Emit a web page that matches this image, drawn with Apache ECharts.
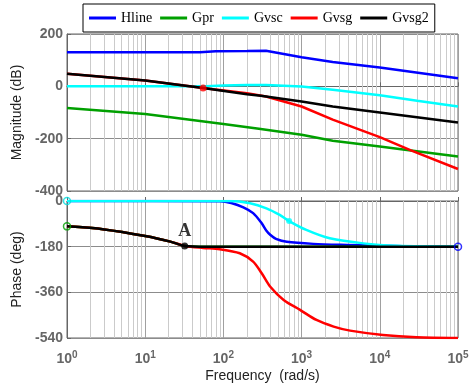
<!DOCTYPE html>
<html><head><meta charset="utf-8">
<script src="https://cdn.jsdelivr.net/npm/echarts@6/dist/echarts.min.js"></script>
<style>html,body{margin:0;padding:0;background:#fff}#c{width:475px;height:385px}</style>
</head><body><div id="c"></div>
<script>
const seriesNames = ['Hline','Gpr','Gvsc','Gvsg','Gvsg2'];
const seriesColors = ['#0000ff','#00a000','#00ffff','#ff0000','#000000'];
const xTickExponents = [0,1,2,3,4,5];
const magTicks = [-400,-200,0,200];
const phaseTicks = [-540,-360,-180,0];

// Magnitude (dB)
const hlineMagFreq = [1, 50, 80, 200, 350, 1000, 2500, 10000, 100000];
const hlineMag     = [130, 130, 134, 135, 136, 111, 93, 72, 31];
const gprMagFreq = [1, 10, 100, 300, 1000, 2500, 10000, 25000, 100000];
const gprMag     = [-83, -106, -144, -163, -185, -208, -230, -245, -268];
const gvscMagFreq = [1, 60, 100, 200, 350, 1000, 2500, 10000, 30000, 100000];
const gvscMag     = [0, 0, 3, 5, 5, -1, -13, -34, -55, -77];
const gvsgMagFreq = [1, 10, 55, 200, 350, 1000, 2500, 10000, 25000, 100000];
const gvsgMag     = [48, 22, -6, -26, -39, -77, -127, -194, -245, -316];
const gvsg2MagFreq = [1, 10, 55, 200, 300, 1000, 2500, 10000, 100000];
const gvsg2Mag     = [48, 22, -6, -30, -36, -58, -77, -100, -138];

// Phase (deg)
const hlinePhaseFreq = [1, 91, 126, 180, 240, 309, 355, 400, 470, 646, 1413, 3800, 20000, 100000];
const hlinePhase     = [0, -1, -8, -25, -48, -88, -117, -134, -149, -161, -169, -173, -178, -180];
const gprPhaseFreq = [1, 3, 10, 21, 32, 60, 100000];
const gprPhase     = [-100, -112, -138, -160, -177, -180, -180];
const gvscPhaseFreq = [1, 120, 219, 355, 525, 692, 1148, 2291, 6166, 16600, 100000];
const gvscPhase     = [0, 0, -9, -29, -55, -79, -114, -147, -167, -176, -180];
const gvsgPhaseFreq = [1, 3, 10, 21, 32, 55, 90, 162, 240, 309, 398, 589, 955, 1549, 2570, 4169, 10965, 29500, 100000];
const gvsgPhase     = [-100, -112, -138, -160, -177, -185, -190, -206, -239, -285, -338, -390, -429, -469, -495, -511, -528, -537, -540];
const gvsg2PhaseFreq = [1, 3, 10, 21, 32, 60, 100000];
const gvsg2Phase     = [-100, -112, -138, -160, -177, -180, -180];

// Markers
const magCrossPoint = [[55, -6]];
const pointA = [[32, -177]];
const gvscPhaseMarker = [[692, -79]];
const startMarkers = [[1, 0, '#00e0e0'], [1, -100, '#00a000'], [100000, -180, '#0000ff']];

const zip = (f, v) => f.map((x, i) => [x, v[i]]);

const magData = [zip(hlineMagFreq, hlineMag), zip(gprMagFreq, gprMag), zip(gvscMagFreq, gvscMag), zip(gvsgMagFreq, gvsgMag), zip(gvsg2MagFreq, gvsg2Mag)];
const phaseData = [zip(hlinePhaseFreq, hlinePhase), zip(gprPhaseFreq, gprPhase), zip(gvscPhaseFreq, gvscPhase), zip(gvsgPhaseFreq, gvsgPhase), zip(gvsg2PhaseFreq, gvsg2Phase)];

const minorGrid = [];
for (let e = 0; e < 5; e++) for (let k = 2; k <= 9; k++) minorGrid.push({ xAxis: k * Math.pow(10, e) });

const labelFont = 'Liberation Sans';
const gridSeries = (idx) => ({
  type: 'line', xAxisIndex: idx, yAxisIndex: idx, data: [], silent: true, z: 1,
  markLine: { silent: true, z: 1, symbol: 'none', label: { show: false }, animation: false,
    lineStyle: { color: '#cbcbcb', width: 1, type: 'solid' }, data: minorGrid }
});

const series = [gridSeries(0), gridSeries(1)];
seriesNames.forEach((n, i) => {
  series.push({ name: n, type: 'line', xAxisIndex: 0, yAxisIndex: 0, data: magData[i], symbol: 'none',
    lineStyle: { color: seriesColors[i], width: 2.5 }, itemStyle: { color: seriesColors[i] }, z: 10 + i });
});
seriesNames.forEach((n, i) => {
  series.push({ name: n, type: 'line', xAxisIndex: 1, yAxisIndex: 1, data: phaseData[i], symbol: 'none',
    smooth: 0.3,
    lineStyle: { color: seriesColors[i], width: 2.5 }, itemStyle: { color: seriesColors[i] }, z: 10 + i });
});
series.push({ type: 'scatter', xAxisIndex: 0, yAxisIndex: 0, data: magCrossPoint, symbolSize: 7, itemStyle: { color: '#ff0000' }, z: 20 });
series.push({ type: 'scatter', xAxisIndex: 1, yAxisIndex: 1, data: pointA, symbolSize: 7, itemStyle: { color: '#000' }, z: 20,
  label: { show: true, formatter: 'A', position: 'top', distance: 2, fontFamily: 'Liberation Serif', fontWeight: 'bold', fontSize: 18, color: '#000' } });
series.push({ type: 'scatter', xAxisIndex: 1, yAxisIndex: 1, data: gvscPhaseMarker, symbolSize: 6, itemStyle: { color: '#00ffff' }, z: 20 });
series.push({ type: 'scatter', xAxisIndex: 1, yAxisIndex: 1, data: startMarkers.map(d => ({ value: [d[0], d[1]], itemStyle: { borderColor: d[2] } })),
  symbol: 'circle', symbolSize: 7, itemStyle: { color: 'rgba(255,255,255,0)', borderWidth: 1.5 }, z: 21 });

const xAxisBase = (idx) => ({
  type: 'log', logBase: 10, gridIndex: idx, min: 1, max: 100000,
  axisLine: { lineStyle: { color: '#666', width: 1 } },
  axisTick: { inside: true, length: 4, lineStyle: { color: '#666' } },
  splitLine: { show: true, lineStyle: { color: '#a0a0a0', width: 1 } },
  minorSplitLine: { show: false }
});
const yAxisBase = (idx, ticks, name) => ({
  type: 'value', gridIndex: idx, min: ticks[0], max: ticks[ticks.length - 1], interval: ticks[1] - ticks[0],
  name: name, nameLocation: 'middle', nameGap: 32,
  nameTextStyle: { fontFamily: labelFont, fontSize: 14, color: '#222' },
  axisLine: { show: true, lineStyle: { color: '#666' } },
  axisTick: { show: true, inside: true, length: 4, lineStyle: { color: '#666' } },
  axisLabel: { fontFamily: labelFont, fontWeight: 'bold', fontSize: 14, color: '#666', margin: 4 },
  splitLine: { show: true, lineStyle: { color: '#8c8c8c', width: 1 } }
});

const xTop = xAxisBase(0); xTop.axisLabel = { show: false };
const xBot = xAxisBase(1);
xBot.name = 'Frequency  (rad/s)'; xBot.nameLocation = 'middle'; xBot.nameGap = 31;
xBot.nameTextStyle = { fontFamily: labelFont, fontSize: 14, color: '#222' };
xBot.axisLabel = { margin: 12, formatter: (v) => {
    const e = Math.round(Math.log10(v));
    return xTickExponents.indexOf(e) >= 0 ? '{b|10}{s|' + e + '}' : '';
  },
  rich: { b: { fontFamily: labelFont, fontWeight: 'bold', fontSize: 14, color: '#666' },
          s: { fontFamily: labelFont, fontWeight: 'bold', fontSize: 10, color: '#666', padding: [0, 0, 9, 0] } } };

const option = {
  animation: false,
  backgroundColor: '#fff',
  legend: { data: seriesNames, left: 83, top: 4, icon: 'rect', itemWidth: 27, itemHeight: 3, itemGap: 8,
    borderColor: '#000', borderWidth: 1, padding: [7, 6],
    textStyle: { fontFamily: 'Liberation Serif', fontSize: 14, color: '#000' } },
  grid: [
    { left: 67, top: 34, width: 391, height: 157, show: true, borderColor: '#666', borderWidth: 1, backgroundColor: 'transparent' },
    { left: 67, top: 201, width: 391, height: 137, show: true, borderColor: '#666', borderWidth: 1, backgroundColor: 'transparent' }
  ],
  xAxis: [xTop, xBot],
  yAxis: [yAxisBase(0, magTicks, 'Magnitude (dB)'), yAxisBase(1, phaseTicks, 'Phase (deg)')],
  series: series
};
const chart = echarts.init(document.getElementById('c'), null, { renderer: 'canvas' });
chart.setOption(option);
</script></body></html>
